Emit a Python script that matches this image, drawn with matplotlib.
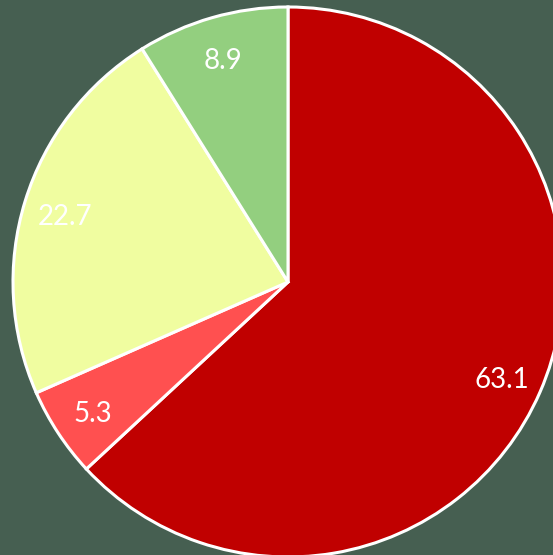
import matplotlib
matplotlib.use("Agg")
import matplotlib.pyplot as plt
from matplotlib.transforms import offset_copy

labels = ["63.1", "5.3", "22.7", "8.9"]
values = [63.1, 5.3, 22.7, 8.9]
colors = ["#C00000", "#FF5050", "#F0FDA0", "#93CF7F"]

W, H = 553, 555
fig = plt.figure(figsize=(W / 100, H / 100), dpi=100)
bg = "#465F51"
fig.patch.set_facecolor(bg)
ax = fig.add_axes([0, 0, 1, 1])
ax.set_facecolor(bg)

wedges, texts = ax.pie(values, labels=labels, colors=colors, startangle=90,
                       counterclock=False, center=(288, H - 282), radius=275,
                       labeldistance=0.85, frame=True,
                       wedgeprops=dict(edgecolor="white", linewidth=2.2),
                       textprops=dict(color="white", fontsize=20, family="Lato"))
for t in texts:
    t.set_ha("center")
    t.set_va("center")
    t.set_transform(offset_copy(ax.transData, fig=fig, x=0, y=-4, units="dots"))
ax.set_xlim(0, W)
ax.set_ylim(0, H)
ax.set_aspect("equal")
ax.axis("off")

fig.savefig("out.png", dpi=100, facecolor=bg)
